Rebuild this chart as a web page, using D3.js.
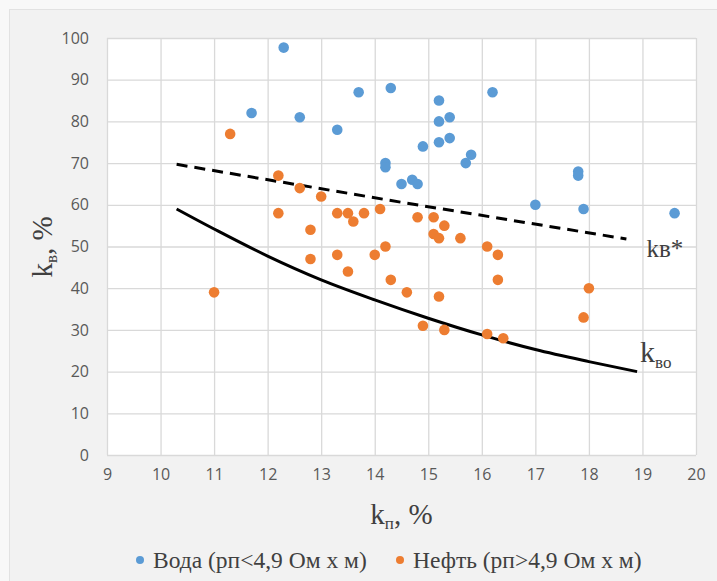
<!DOCTYPE html>
<html>
<head>
  <meta charset="utf-8">
  <title>kв от kп</title>
  <script src="https://d3js.org/d3.v7.min.js"></script>
  <style>
    body { margin: 0; background: #f8f8f8; }
    .tick text { font-family: "Open Sans", sans-serif; font-size: 16px; fill: #595959; }
    .grid line { stroke: #d9d9d9; stroke-width: 1.3px; }
    .grid path { display: none; }
    .serif { font-family: "Liberation Serif", "DejaVu Serif", serif; fill: #404040; }
  </style>
</head>
<body>
  <svg id="chart"></svg>

  <script>
    // Вода (рп<4,9 Ом х м)
    const waterKp = [12.3, 11.7, 12.6, 13.7, 14.3, 13.3, 14.2, 14.2, 14.5, 14.7, 14.8, 14.9,
                     15.2, 15.2, 15.2, 15.4, 15.4, 15.7, 15.8, 16.2, 17.0, 17.8, 17.8, 17.9, 19.6];
    const waterKv = [97.7, 82, 81, 87, 88, 78, 70, 69, 65, 66, 65, 74,
                     85, 80, 75, 81, 76, 70, 72, 87, 60, 68, 67, 59, 58];

    // Нефть (рп>4,9 Ом х м)
    const oilKp = [11.0, 11.3, 12.2, 12.2, 12.6, 12.8, 12.8, 13.0, 13.3, 13.3, 13.5, 13.5,
                   13.6, 13.8, 14.0, 14.1, 14.2, 14.3, 14.6, 14.8, 14.9, 15.1, 15.1, 15.2,
                   15.2, 15.3, 15.3, 15.6, 16.1, 16.1, 16.3, 16.3, 16.4, 17.9, 18.0];
    const oilKv = [39, 77, 67, 58, 64, 54, 47, 62, 58, 48, 58, 44,
                   56, 58, 48, 59, 50, 42, 39, 57, 31, 57, 53, 52,
                   38, 55, 30, 52, 50, 29, 48, 42, 28, 33, 40];

    // kв* (dashed) and kво (solid) curves
    const kvStarKp = [10.3, 14.5, 18.7];
    const kvStarKv = [69.7, 60.6, 51.8];
    const kvoKp = [10.3, 11, 12, 13, 14, 15, 16, 17, 18, 18.9];
    const kvoKv = [59, 54.2, 47.7, 42, 37.2, 32.8, 28.8, 25.3, 22.4, 20];

    const xTicks = [9, 10, 11, 12, 13, 14, 15, 16, 17, 18, 19, 20];
    const yTicks = [0, 10, 20, 30, 40, 50, 60, 70, 80, 90, 100];

    const width = 717, height = 581;
    const margin = { left: 107, top: 38, right: 21, bottom: 126 };
    const plotW = width - margin.left - margin.right;
    const plotH = height - margin.top - margin.bottom;

    const svg = d3.select("#chart")
      .attr("width", width)
      .attr("height", height);

    // chart area background
    svg.append("rect")
      .attr("x", 9.5).attr("y", 9.5)
      .attr("width", width).attr("height", height)
      .attr("fill", "#f2f2f2")
      .attr("stroke", "#e2e2e2");

    const g = svg.append("g")
      .attr("transform", `translate(${margin.left},${margin.top})`);

    g.append("rect")
      .attr("width", plotW).attr("height", plotH)
      .attr("fill", "#ffffff");

    const x = d3.scaleLinear().domain([9, 20]).range([0, plotW]);
    const y = d3.scaleLinear().domain([0, 100]).range([plotH, 0]);

    // grid + axes
    g.append("g")
      .attr("class", "grid")
      .attr("transform", `translate(0,${plotH})`)
      .call(d3.axisBottom(x).tickValues(xTicks).tickSize(-plotH).tickPadding(14));

    g.append("g")
      .attr("class", "grid")
      .call(d3.axisLeft(y).tickValues(yTicks).tickSize(-plotW).tickPadding(18));

    // curves
    const line = d3.line()
      .x(i => x(i[0]))
      .y(i => y(i[1]));

    g.append("path")
      .datum(d3.zip(kvStarKp, kvStarKv))
      .attr("d", line)
      .attr("fill", "none")
      .attr("stroke", "#000")
      .attr("stroke-width", 3)
      .attr("stroke-dasharray", "11,7");

    g.append("path")
      .datum(d3.zip(kvoKp, kvoKv))
      .attr("d", line.curve(d3.curveCatmullRom.alpha(0.5)))
      .attr("fill", "none")
      .attr("stroke", "#000")
      .attr("stroke-width", 3);

    // points
    g.selectAll(".water")
      .data(d3.zip(waterKp, waterKv))
      .enter().append("circle")
      .attr("class", "water")
      .attr("cx", d => x(d[0]))
      .attr("cy", d => y(d[1]))
      .attr("r", 5.3)
      .attr("fill", "#5b9bd5");

    g.selectAll(".oil")
      .data(d3.zip(oilKp, oilKv))
      .enter().append("circle")
      .attr("class", "oil")
      .attr("cx", d => x(d[0]))
      .attr("cy", d => y(d[1]))
      .attr("r", 5.3)
      .attr("fill", "#ed7d31");

    // curve labels
    g.append("text")
      .attr("class", "serif")
      .attr("x", x(18.7) + 20).attr("y", y(47.5))
      .attr("font-size", 25)
      .text("kв*");

    const kvoLabel = g.append("text")
      .attr("class", "serif")
      .attr("x", x(18.9) + 3).attr("y", y(22.2))
      .attr("font-size", 30);
    kvoLabel.append("tspan").text("k");
    kvoLabel.append("tspan").attr("font-size", 17).attr("dy", 6).text("во");

    // axis titles
    const xTitle = svg.append("text")
      .attr("class", "serif")
      .attr("x", margin.left + plotW / 2)
      .attr("y", 524)
      .attr("text-anchor", "middle")
      .attr("font-size", 29);
    xTitle.append("tspan").text("k");
    xTitle.append("tspan").attr("font-size", 17).attr("dy", 5).text("п");
    xTitle.append("tspan").attr("dy", -5).text(", %");

    const yTitle = svg.append("text")
      .attr("class", "serif")
      .attr("transform", "translate(52,247) rotate(-90)")
      .attr("text-anchor", "middle")
      .attr("font-size", 29);
    yTitle.append("tspan").text("k");
    yTitle.append("tspan").attr("font-size", 17).attr("dy", 5).text("в");
    yTitle.append("tspan").attr("dy", -5).text(", %");

    // legend
    const legend = [
      { name: "Вода (рп<4,9 Ом х м)", color: "#5b9bd5", x: 140 },
      { name: "Нефть (рп>4,9 Ом х м)", color: "#ed7d31", x: 400 }
    ];
    const leg = svg.selectAll(".legend")
      .data(legend)
      .enter().append("g")
      .attr("class", "legend")
      .attr("transform", d => `translate(${d.x},560)`);
    leg.append("circle")
      .attr("r", 4)
      .attr("fill", d => d.color);
    leg.append("text")
      .attr("class", "serif")
      .attr("x", 13)
      .attr("y", 8)
      .attr("font-size", 23.5)
      .text(d => d.name);
  </script>
</body>
</html>
